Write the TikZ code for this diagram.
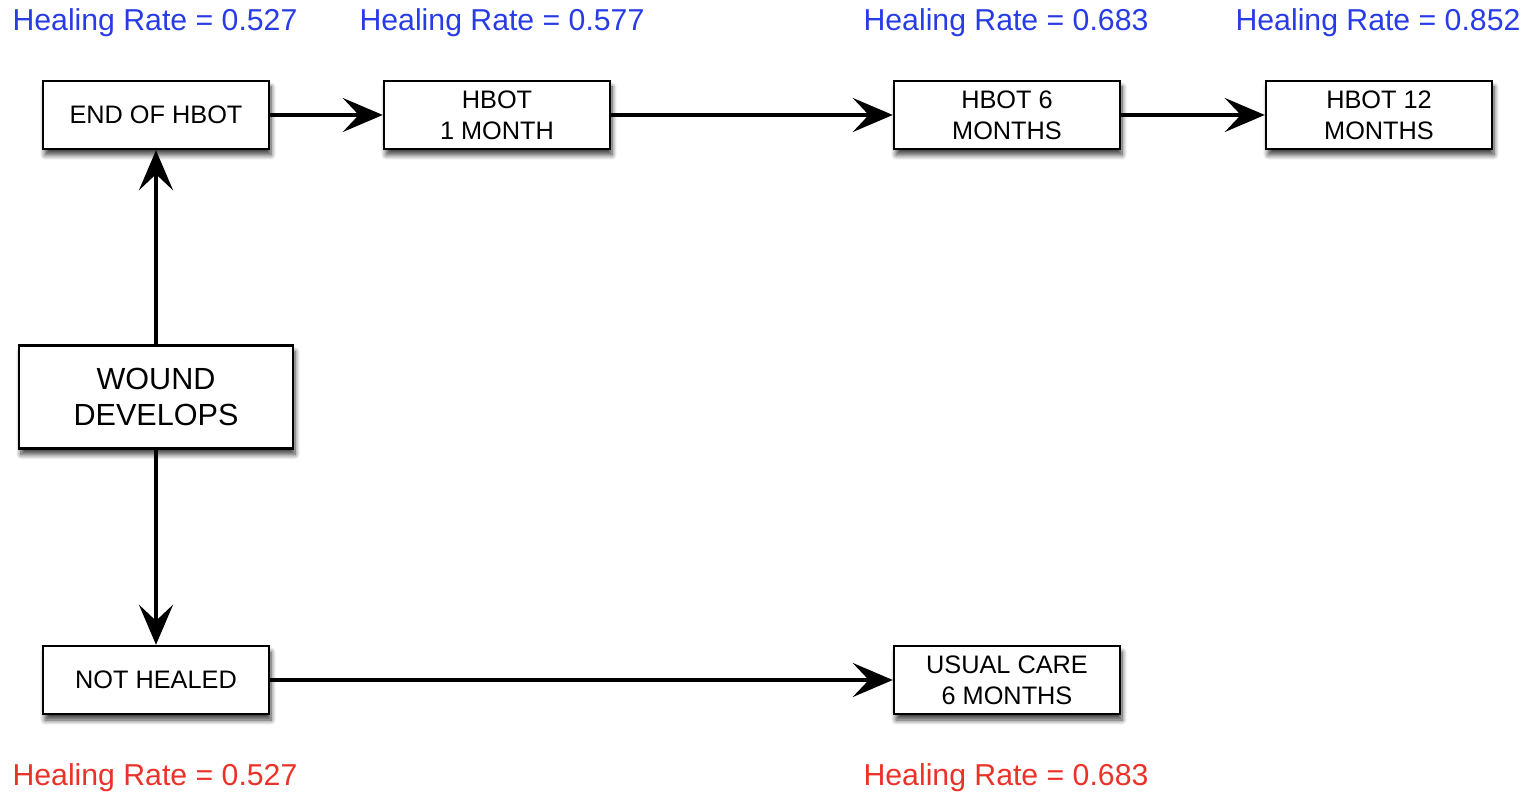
\documentclass[tikz,border=0pt]{standalone}
\usepackage{fontspec}
\setmainfont{Liberation Sans}
\usepackage{tikz}
\usetikzlibrary{shapes,arrows.meta,positioning,shadows.blur}

\definecolor{rateblue}{RGB}{40,60,230}
\definecolor{ratered}{RGB}{235,50,40}

\begin{document}
\begin{tikzpicture}[
    state/.style={rectangle, draw, line width=0.7pt, fill=white, text centered, align=center, inner sep=0pt,
        minimum width=2.26cm, minimum height=0.68cm, font=\fontsize{7.2}{8.8}\selectfont,
        blur shadow={shadow xshift=0.02cm, shadow yshift=-0.06cm, shadow blur radius=0.05cm,
            shadow blur steps=8, shadow opacity=75}},
    bigstate/.style={state, minimum width=2.74cm, minimum height=1.03cm, font=\fontsize{8.7}{10}\selectfont},
    rate/.style={font=\fontsize{8.6}{10}\selectfont},
    flow/.style={-{Stealth[length=4mm, width=3.4mm, inset=1.6mm]}, line width=1.2pt}
]
\useasboundingbox (0,0) rectangle (15.37,-7.95);

\node[bigstate] (wound) at (1.56,-3.97) {WOUND\\DEVELOPS};
\node[state] (endhbot) at (1.56,-1.15) {END OF HBOT};
\node[state] (hbot1) at (4.97,-1.15) {HBOT\\1 MONTH};
\node[state] (hbot6) at (10.07,-1.15) {HBOT 6\\MONTHS};
\node[state] (hbot12) at (13.79,-1.15) {HBOT 12\\MONTHS};
\node[state] (nothealed) at (1.56,-6.80) {NOT HEALED};
\node[state] (usual) at (10.07,-6.80) {USUAL CARE\\6 MONTHS};

% healing rates
\node[rate, text=rateblue] (r1) at (1.55,-0.23) {Healing Rate = 0.527};
\node[rate, text=rateblue] (r2) at (5.02,-0.23) {Healing Rate = 0.577};
\node[rate, text=rateblue] (r3) at (10.06,-0.23) {Healing Rate = 0.683};
\node[rate, text=rateblue] (r4) at (13.78,-0.23) {Healing Rate = 0.852};
\node[rate, text=ratered] (r5) at (1.55,-7.78) {Healing Rate = 0.527};
\node[rate, text=ratered] (r6) at (10.06,-7.78) {Healing Rate = 0.683};

\draw[flow] (wound) -- (endhbot);
\draw[flow] (wound) -- (nothealed);
\draw[flow] (endhbot) -- (hbot1);
\draw[flow] (hbot1) -- (hbot6);
\draw[flow] (hbot6) -- (hbot12);
\draw[flow] (nothealed) -- (usual);

\end{tikzpicture}
\end{document}
